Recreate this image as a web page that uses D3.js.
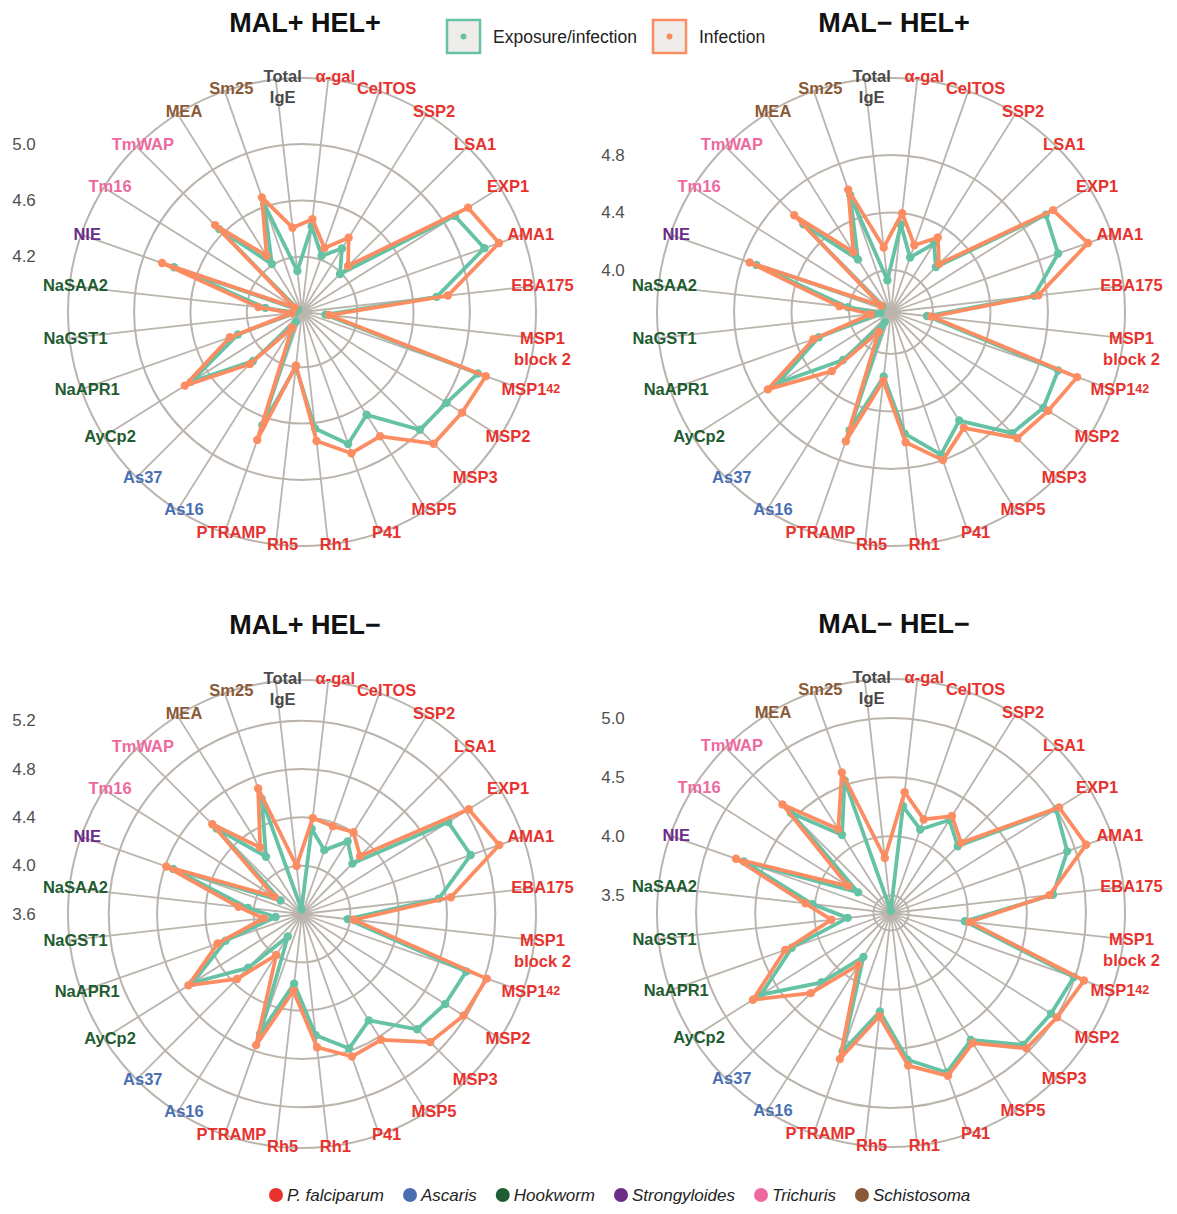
<!DOCTYPE html>
<html>
<head>
<meta charset="utf-8">
<script src="https://cdn.jsdelivr.net/npm/d3@7"></script>
<style>
  html, body { margin: 0; padding: 0; background: #ffffff; }
  svg text { font-family: "Liberation Sans", Arial, Helvetica, sans-serif; }
</style>
</head>
<body>
<svg id="chart" width="1177" height="1214"></svg>
<script>
// ---- antigens (spokes, clockwise from the top) ----
const antigens = ["Total IgE", "α-gal", "CelTOS", "SSP2", "LSA1", "EXP1", "AMA1", "EBA175",
  "MSP1 block 2", "MSP142", "MSP2", "MSP3", "MSP5", "P41", "Rh1", "Rh5", "PTRAMP",
  "As16", "As37", "AyCp2", "NaAPR1", "NaGST1", "NaSAA2", "NIE", "Tm16", "TmWAP", "MEA", "Sm25"];

const antigenGroup = ["Total", "P. falciparum", "P. falciparum", "P. falciparum", "P. falciparum",
  "P. falciparum", "P. falciparum", "P. falciparum", "P. falciparum", "P. falciparum",
  "P. falciparum", "P. falciparum", "P. falciparum", "P. falciparum", "P. falciparum",
  "P. falciparum", "P. falciparum", "Ascaris", "Ascaris", "Hookworm", "Hookworm", "Hookworm",
  "Hookworm", "Strongyloides", "Trichuris", "Trichuris", "Schistosoma", "Schistosoma"];

const pathogens = ["P. falciparum", "Ascaris", "Hookworm", "Strongyloides", "Trichuris", "Schistosoma"];
const pathogenColors = ["#e8322e", "#4a6fb3", "#1f5c31", "#6a2c87", "#ee6a9e", "#8a5a36"];
const totalColor = "#4a4a4a";

// ---- series ----
const seriesNames = ["Exposure/infection", "Infection"];
const seriesColors = ["#66c2a5", "#fc8d62"];

// ---- panels ----
const panelTitles = ["MAL+ HEL+", "MAL\u2212 HEL+", "MAL+ HEL\u2212", "MAL\u2212 HEL\u2212"];
const panelTicks = [[4.2, 4.6, 5.0], [4.0, 4.4, 4.8], [3.6, 4.0, 4.4, 4.8, 5.2], [3.5, 4.0, 4.5, 5.0]];
const panelRadialDomain = [[3.808, 5.469], [3.708, 5.336], [3.600, 5.537], [3.352, 5.330]];

// mean log10 levels per antigen, in antigen order
const exposureMalPosHelPos  = [4.10, 4.42, 4.23, 4.34, 4.19, 5.09, 5.18, 4.77, 3.975, 5.13, 5.02, 4.99, 4.67, 4.80, 4.64, 4.20, 4.66, 3.89, 4.30, 4.74, 4.29, 3.86, 4.07, 4.77, 3.84, 4.64, 4.21, 4.62];
const infectionMalPosHelPos = [4.41, 4.47, 4.29, 4.43, 4.27, 5.20, 5.29, 4.85, 4.00, 5.19, 5.15, 5.13, 4.85, 4.87, 4.73, 4.19, 4.77, 3.94, 4.33, 4.79, 4.35, 3.88, 4.12, 4.86, 3.87, 4.68, 4.28, 4.67];

const exposureMalNegHelPos  = [3.93, 4.32, 4.11, 4.27, 4.15, 4.98, 4.94, 4.71, 3.96, 4.94, 4.96, 4.90, 4.60, 4.76, 4.56, 4.16, 4.58, 3.79, 4.18, 4.64, 4.24, 3.78, 4.01, 4.70, 3.78, 4.57, 4.14, 4.57];
const infectionMalNegHelPos = [4.16, 4.40, 4.20, 4.32, 4.18, 5.04, 5.16, 4.74, 3.99, 5.08, 5.00, 4.95, 4.66, 4.80, 4.62, 4.19, 4.66, 3.87, 4.29, 4.72, 4.28, 3.85, 4.07, 4.75, 3.79, 4.66, 4.20, 4.61];

const exposureMalPosHelNeg  = [3.64, 4.31, 4.16, 4.31, 4.19, 5.03, 5.08, 4.74, 3.98, 5.04, 5.00, 4.95, 4.64, 4.78, 4.61, 4.18, 4.65, 3.82, 4.23, 4.67, 4.27, 3.82, 4.05, 4.73, 3.81, 4.60, 4.16, 4.61];
const infectionMalPosHelNeg = [4.00, 4.40, 4.37, 4.40, 4.28, 5.23, 5.33, 4.84, 4.03, 5.22, 5.18, 5.10, 4.83, 4.85, 4.71, 4.24, 4.75, 4.00, 4.36, 4.71, 4.34, 3.92, 4.13, 4.79, 3.87, 4.65, 4.25, 4.70];

const exposureMalNegHelNeg  = [3.37, 4.26, 4.10, 4.28, 4.15, 5.00, 4.93, 4.73, 3.98, 4.99, 4.95, 4.93, 4.62, 4.78, 4.60, 4.19, 4.59, 3.79, 4.18, 4.65, 4.24, 3.72, 4.02, 4.67, 3.68, 4.55, 4.13, 4.54];
const infectionMalNegHelNeg = [3.82, 4.38, 4.19, 4.32, 4.19, 5.03, 5.10, 4.70, 4.02, 5.08, 5.01, 4.97, 4.65, 4.81, 4.65, 4.23, 4.66, 3.87, 4.31, 4.73, 4.30, 3.86, 4.08, 4.74, 3.78, 4.65, 4.19, 4.61];

const panelSeries = [
  [exposureMalPosHelPos, infectionMalPosHelPos],
  [exposureMalNegHelPos, infectionMalNegHelPos],
  [exposureMalPosHelNeg, infectionMalPosHelNeg],
  [exposureMalNegHelNeg, infectionMalNegHelNeg]
];

// ---- layout ----
const svg = d3.select("#chart");
const outerR = 234;
const panelCenters = [[302, 312], [891, 312], [302, 914], [891, 913]];
const gridColor = "#bbb4ad";
const fmt = d3.format(".1f");

const n = antigens.length;
const step = 2 * Math.PI / n;
const angle = d3.scaleLinear().domain([0, n]).range([-step / 2, 2 * Math.PI - step / 2]);

function labelColor(i) {
  const g = antigenGroup[i];
  return g === "Total" ? totalColor : pathogenColors[pathogens.indexOf(g)];
}

panelTitles.forEach((title, p) => {
  const [cx, cy] = panelCenters[p];
  const r = d3.scaleLinear().domain(panelRadialDomain[p]).range([0, outerR]);
  const g = svg.append("g").attr("transform", `translate(${cx},${cy})`);

  // grid rings at the tick values plus the outer boundary
  const rings = panelTicks[p].map(v => r(v)).filter(d => d > 1).concat([outerR]);
  g.selectAll("circle.ring").data(rings).join("circle")
    .attr("class", "ring").attr("r", d => d)
    .attr("fill", "none").attr("stroke", gridColor).attr("stroke-width", 2);

  // spokes
  g.selectAll("line.spoke").data(antigens).join("line")
    .attr("class", "spoke")
    .attr("x1", 0).attr("y1", 0)
    .attr("x2", (d, i) => outerR * Math.sin(angle(i)))
    .attr("y2", (d, i) => -outerR * Math.cos(angle(i)))
    .attr("stroke", gridColor).attr("stroke-width", 1.8);

  // series polygons and points
  const radial = d3.lineRadial()
    .angle((d, i) => angle(i))
    .radius(d => r(d))
    .curve(d3.curveLinearClosed);

  panelSeries[p].forEach((vals, s) => {
    g.append("path").datum(vals)
      .attr("d", radial)
      .attr("fill", "none")
      .attr("stroke", seriesColors[s])
      .attr("stroke-width", 3.8)
      .attr("stroke-linejoin", "round");
    g.selectAll(`circle.pt${s}`).data(vals).join("circle")
      .attr("class", `pt${s}`)
      .attr("cx", (d, i) => r(d) * Math.sin(angle(i)))
      .attr("cy", (d, i) => -r(d) * Math.cos(angle(i)))
      .attr("r", 4.2)
      .attr("fill", seriesColors[s]);
  });

  // radial tick labels on the left
  svg.selectAll(null).data(panelTicks[p]).join("text")
    .attr("x", cx - 278)
    .attr("y", d => cy - r(d))
    .attr("text-anchor", "middle")
    .attr("dominant-baseline", "central")
    .attr("font-size", 17)
    .attr("fill", "#505050")
    .text(d => fmt(d));

  // antigen labels around the rim
  antigens.forEach((name, i) => {
    const a = angle(i);
    const c = Math.cos(a);
    const lx = cx + 7 + 235 * Math.sin(a);
    const ly = cy - (c > 0 ? 237 : 233) * c;
    const t = svg.append("text")
      .attr("x", lx).attr("y", ly)
      .attr("text-anchor", "middle")
      .attr("dominant-baseline", "central")
      .attr("font-size", 16.5)
      .attr("font-weight", "bold")
      .attr("fill", labelColor(i));
    if (name === "Total IgE" || name === "MSP1 block 2") {
      const parts = name === "Total IgE" ? ["Total", "IgE"] : ["MSP1", "block 2"];
      t.attr("y", null);
      t.append("tspan").attr("x", lx).attr("y", ly).text(parts[0]);
      t.append("tspan").attr("x", lx).attr("y", ly + 21).text(parts[1]);
    } else if (name === "MSP142") {
      t.append("tspan").text("MSP1");
      t.append("tspan").attr("font-size", 12.5).text("42");
    } else {
      t.text(name);
    }
  });

  // panel title
  svg.append("text")
    .attr("x", cx + 3).attr("y", cy - 280)
    .attr("text-anchor", "middle")
    .attr("font-size", 27)
    .attr("font-weight", "bold")
    .attr("fill", "#111")
    .text(title);
});

// ---- series legend (top) ----
const legTop = svg.append("g");
const legX = [447, 653];
seriesNames.forEach((name, s) => {
  const gx = legX[s];
  legTop.append("rect")
    .attr("x", gx).attr("y", 20).attr("width", 33).attr("height", 33)
    .attr("fill", "#efedea").attr("stroke", seriesColors[s]).attr("stroke-width", 2.5);
  legTop.append("circle")
    .attr("cx", gx + 16.5).attr("cy", 36.5).attr("r", 3)
    .attr("fill", seriesColors[s]);
  legTop.append("text")
    .attr("x", gx + 46).attr("y", 37)
    .attr("dominant-baseline", "central")
    .attr("font-size", 17.5)
    .attr("fill", "#222")
    .text(name);
});

// ---- pathogen legend (bottom) ----
const legBottom = svg.append("g");
let bx = 269;
pathogens.forEach((name, k) => {
  legBottom.append("circle")
    .attr("cx", bx + 7).attr("cy", 1195).attr("r", 7)
    .attr("fill", pathogenColors[k]);
  const t = legBottom.append("text")
    .attr("x", bx + 18).attr("y", 1195)
    .attr("dominant-baseline", "central")
    .attr("font-size", 17)
    .attr("font-style", "italic")
    .attr("fill", "#222")
    .text(name);
  bx += 18 + t.node().getComputedTextLength() + 19;
});
</script>
</body>
</html>
